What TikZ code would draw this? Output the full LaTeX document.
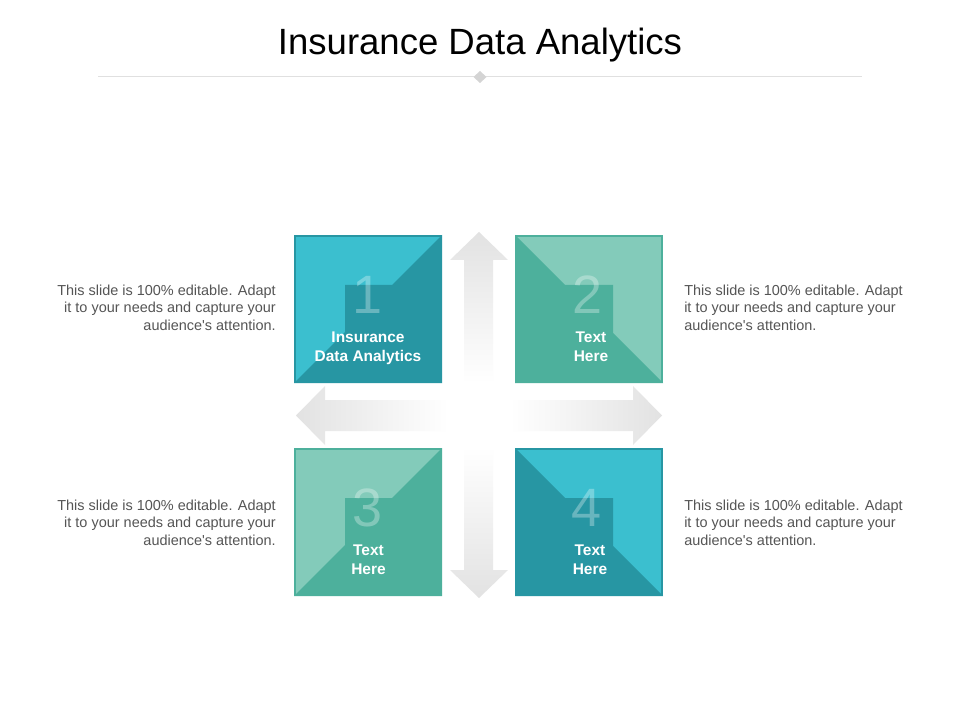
\documentclass[tikz,border=0pt]{standalone}
\usepackage{fontspec}
\setmainfont{Liberation Sans}
\definecolor{cyanlight}{RGB}{59,191,207}
\definecolor{cyandark}{RGB}{39,150,163}
\definecolor{greenlight}{RGB}{131,203,186}
\definecolor{greendark}{RGB}{77,176,156}
\definecolor{arrowgray}{RGB}{226,226,226}
\definecolor{rulegray}{RGB}{224,224,224}
\definecolor{notegray}{RGB}{85,85,85}
\tikzset{
	num/.style={inner sep=0, text=white, text opacity=0.3, font=\fontsize{40.5}{40.5}\selectfont},
	lbl/.style={inner sep=0, anchor=north, align=center, text=white, font=\fontsize{11.6}{14.25}\selectfont\bfseries},
	note/.style={inner sep=0, text=notegray, font=\fontsize{10.85}{13.1}\selectfont},
}

\begin{document}
\begin{tikzpicture}[x=0.75pt, y=-0.75pt]
			%%%%% START %%%%%
			
			\useasboundingbox[fill=white] (0, 0) rectangle (960, 720);
			
			\node[anchor=base, font=\fontsize{27.4}{27.4}\selectfont] (title) at (480, 55) {Insurance Data Analytics};
			\draw[rulegray, line width=0.75pt] (98, 77) -- (862, 77);
			\fill[black!17] (480, 71) -- (486.5, 77) -- (480, 83) -- (473.5, 77) -- cycle;
			
			\shade[top color=arrowgray, bottom color=white] (479, 232) -- (508, 260) -- (493, 260) -- (493, 383) -- (464, 383) -- (464, 260) -- (450, 260) -- cycle;
			\shade[top color=white, bottom color=arrowgray] (479, 598) -- (508, 570) -- (493, 570) -- (493, 447) -- (464, 447) -- (464, 570) -- (450, 570) -- cycle;
			\shade[left color=arrowgray, right color=white] (296, 415.5) -- (325, 386) -- (325, 400) -- (448, 400) -- (448, 431) -- (325, 431) -- (325, 445) -- cycle;
			\shade[left color=white, right color=arrowgray] (662, 415.5) -- (633, 386) -- (633, 400) -- (510, 400) -- (510, 431) -- (633, 431) -- (633, 445) -- cycle;
			
			\fill[cyanlight] (294, 235) rectangle (442, 383);
			\fill[cyandark] (294, 383) -- (345, 332) -- (345, 285) -- (392, 285) -- (442, 235) -- (442, 383) -- cycle;
			\draw[cyandark, line width=1.5pt] (295, 236) rectangle (441, 382);
			
			\fill[greenlight] (515, 235) rectangle (663, 383);
			\fill[greendark] (515, 235) -- (565, 285) -- (613, 285) -- (613, 333) -- (663, 383) -- (515, 383) -- cycle;
			\draw[greendark, line width=1.5pt] (516, 236) rectangle (662, 382);
			
			\fill[greenlight] (294, 448) rectangle (442, 596);
			\fill[greendark] (294, 596) -- (345, 545) -- (345, 498) -- (392, 498) -- (442, 448) -- (442, 596) -- cycle;
			\draw[greendark, line width=1.5pt] (295, 449) rectangle (441, 595);
			
			\fill[cyanlight] (515, 448) rectangle (663, 596);
			\fill[cyandark] (515, 448) -- (565, 498) -- (613, 498) -- (613, 546) -- (663, 596) -- (515, 596) -- cycle;
			\draw[cyandark, line width=1.5pt] (516, 449) rectangle (662, 595);
			
			\node[num] (n1) at (368, 295) {1};
			\node[num] (n2) at (588, 295) {2};
			\node[num] (n3) at (368, 508) {3};
			\node[num] (n4) at (587, 508) {4};
			
			\node[lbl] (l1) at (368, 332) {Insurance\\Data Analytics};
			\node[lbl] (l2) at (591, 332) {Text\\Here};
			\node[lbl] (l3) at (368.5, 545) {Text\\Here};
			\node[lbl] (l4) at (590, 545) {Text\\Here};
			
			\node[note, anchor=north east, align=right] (t1) at (276, 284.5) {This slide is 100\% editable. Adapt\\it to your needs and capture your\\audience\textquotesingle s attention.};
			\node[note, anchor=north west, align=left] (t2) at (684, 284.5) {This slide is 100\% editable. Adapt\\it to your needs and capture your\\audience\textquotesingle s attention.};
			\node[note, anchor=north east, align=right] (t3) at (276, 499.5) {This slide is 100\% editable. Adapt\\it to your needs and capture your\\audience\textquotesingle s attention.};
			\node[note, anchor=north west, align=left] (t4) at (684, 499.5) {This slide is 100\% editable. Adapt\\it to your needs and capture your\\audience\textquotesingle s attention.};
			
			%%%%% END %%%%%
\end{tikzpicture}
\end{document}
